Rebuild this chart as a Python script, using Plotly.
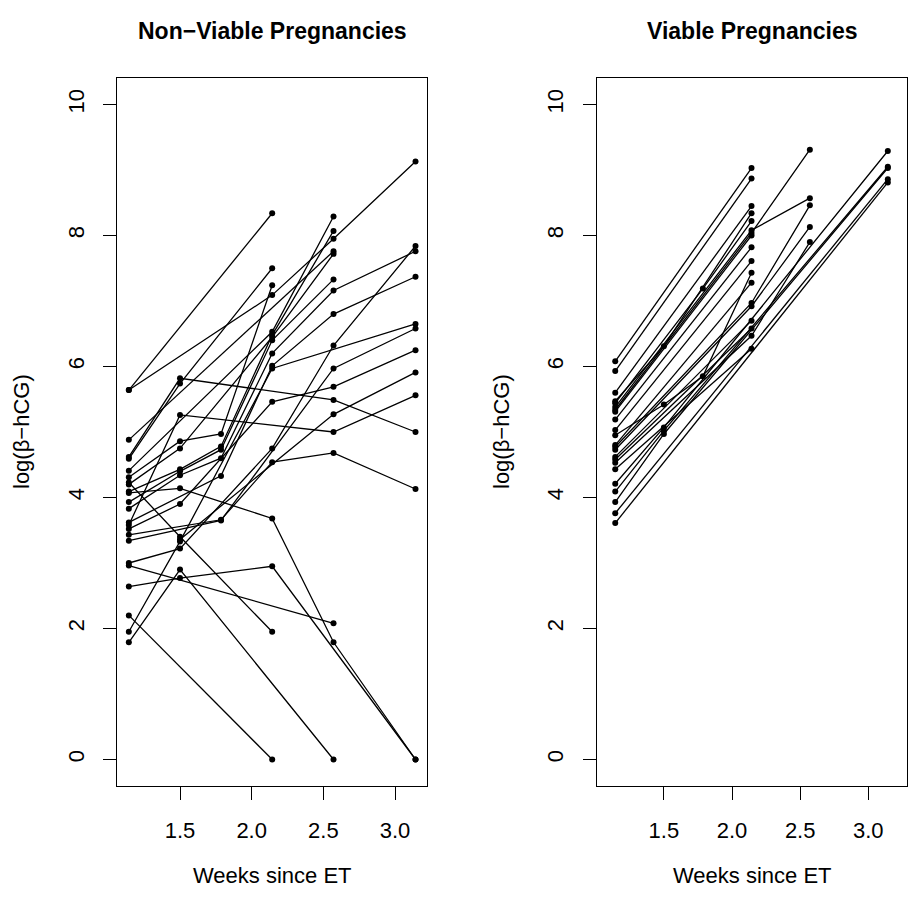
import plotly.graph_objects as go

# ---------------- data ----------------
WEEK_TICKS = [1.5, 2.0, 2.5, 3.0]
WEEK_TICK_TEXT = ["1.5", "2.0", "2.5", "3.0"]
LOG_TICKS = [0, 2, 4, 6, 8, 10]
LOG_TICK_TEXT = ["0", "2", "4", "6", "8", "10"]

PANEL_TITLES = ["Non\u2212Viable Pregnancies", "Viable Pregnancies"]
X_TITLE = "Weeks since ET"
Y_TITLE = "log(\u03b2\u2212hCG)"

# Non-viable pregnancies: one list per subject
nv_weeks = [
    [1.143, 2.143],
    [1.143, 2.143, 2.571, 3.143],
    [1.143, 2.571],
    [1.143, 1.5, 2.571, 3.143],
    [1.143, 1.5, 2.143],
    [1.143, 2.143, 2.571],
    [1.143, 1.5, 1.786, 2.143],
    [1.143, 1.5, 2.143],
    [1.143, 1.5, 2.143, 2.571],
    [1.143, 1.5, 1.786, 2.143, 2.571],
    [1.143, 1.5, 2.143, 2.571, 3.143],
    [1.143, 1.5, 1.786, 2.143, 2.571],
    [1.143, 1.5, 1.786, 2.143, 2.571, 3.143],
    [1.143, 1.786, 2.143, 2.571, 3.143],
    [1.143, 1.5, 2.571, 3.143],
    [1.143, 1.5, 2.143, 2.571, 3.143],
    [1.5, 2.571, 3.143],
    [1.143, 1.786, 2.571, 3.143],
    [1.143, 1.5, 2.143, 2.571, 3.143],
    [1.143, 2.571],
    [1.143, 1.5, 2.143, 3.143],
    [1.143, 2.143],
    [1.143, 1.5, 2.143, 3.143],
    [1.143, 1.5, 2.571],
    [1.143, 1.786, 2.143, 2.571, 3.143],
]
nv_loghcg = [
    [5.64, 8.34],
    [5.64, 7.09, 7.95, 9.13],
    [4.88, 7.76],
    [4.62, 5.82, 5.49, 5.00],
    [4.59, 5.74, 7.50],
    [4.41, 6.53, 8.29],
    [4.31, 4.86, 4.97, 7.24],
    [4.23, 3.40, 1.95],
    [4.20, 4.75, 6.45, 7.72],
    [4.09, 4.43, 4.78, 6.48, 8.07],
    [4.07, 4.14, 3.68, 1.79, 0.00],
    [3.93, 4.40, 4.73, 6.40, 7.33],
    [3.83, 4.34, 4.60, 6.20, 7.16, 7.76],
    [3.62, 4.33, 6.01, 6.80, 7.37],
    [3.58, 5.26, 5.00, 5.56],
    [3.52, 3.90, 5.46, 5.69, 6.25],
    [3.36, 5.27, 5.91],
    [3.34, 3.65, 5.97, 6.58],
    [3.00, 3.22, 4.75, 6.32, 7.84],
    [2.96, 2.08],
    [2.64, 2.77, 2.95, 0.00],
    [2.20, 0.00],
    [1.95, 3.33, 5.97, 6.65],
    [1.79, 2.90, 0.00],
    [3.43, 3.66, 4.54, 4.68, 4.13],
]

# Viable pregnancies: one list per subject
v_weeks = [
    [1.143, 2.143],
    [1.143, 2.143],
    [1.143, 2.143],
    [1.143, 1.5, 2.143],
    [1.143, 1.786, 2.143],
    [1.143, 2.143, 2.571],
    [1.143, 2.143, 2.571],
    [1.143, 2.143],
    [1.143, 2.143],
    [1.143, 2.143],
    [1.143, 1.5, 1.786, 2.143],
    [1.143, 2.143],
    [1.143, 2.143, 2.571],
    [1.143, 2.143, 2.571],
    [1.143, 2.143],
    [1.143, 2.143],
    [1.143, 2.143, 2.571],
    [1.143, 2.143],
    [1.143, 1.5, 3.143],
    [1.143, 1.5, 3.143],
    [1.143, 1.5, 3.143],
    [1.143, 3.143],
    [1.143, 3.143],
]
v_loghcg = [
    [6.08, 9.03],
    [5.93, 8.87],
    [5.60, 8.45],
    [5.47, 6.31, 8.34],
    [5.44, 7.19, 8.22],
    [5.38, 8.08, 8.57],
    [5.34, 8.04, 9.31],
    [5.31, 8.00],
    [5.19, 7.82],
    [5.03, 7.61],
    [4.95, 5.42, 5.85, 7.43],
    [4.80, 7.28],
    [4.77, 6.97, 8.46],
    [4.73, 6.92, 8.13],
    [4.62, 6.70],
    [4.58, 6.58],
    [4.53, 6.47, 7.90],
    [4.43, 6.27],
    [4.21, 5.07, 9.29],
    [4.09, 5.02, 9.05],
    [3.93, 4.97, 9.03],
    [3.76, 8.86],
    [3.61, 8.81],
]

# ---------------- figure ----------------
W, H = 910, 903
FONT = "Liberation Sans, Arial, Helvetica, sans-serif"
AX_FS = 22
TITLE_FS = 23

fig = go.Figure()


def add_panel(weeks, vals, xa, ya):
    for wk, lv in zip(weeks, vals):
        fig.add_trace(go.Scatter(
            x=wk, y=lv, mode="lines+markers",
            line=dict(color="black", width=1.3),
            marker=dict(color="black", size=6),
            xaxis=xa, yaxis=ya, hoverinfo="skip", showlegend=False,
        ))


add_panel(nv_weeks, nv_loghcg, "x", "y")
add_panel(v_weeks, v_loghcg, "x2", "y2")

# plot boxes in pixels
L_BOX = (117.3, 426.7)
R_BOX = (596.7, 907.3)
TOP, BOT = 78.3, 785.7


def px_x(p):
    return p / W


def px_y(p):
    return 1 - p / H


ydom = [px_y(BOT), px_y(TOP)]

axis_common = dict(
    showline=True, mirror=True, linecolor="black", linewidth=1,
    ticks="outside", ticklen=13, tickwidth=1, tickcolor="black",
    showgrid=False, zeroline=False,
    tickfont=dict(family=FONT, size=AX_FS, color="black"),
)

fig.update_layout(
    width=W, height=H,
    margin=dict(l=0, r=0, t=0, b=0),
    plot_bgcolor="white", paper_bgcolor="white",
    showlegend=False,
    font=dict(family=FONT, size=AX_FS, color="black"),
    xaxis=dict(domain=[px_x(L_BOX[0]), px_x(L_BOX[1])], range=[1.0625, 3.221],
               tickvals=WEEK_TICKS, ticktext=WEEK_TICK_TEXT, anchor="y",
               ticklabelstandoff=12, **axis_common),
    yaxis=dict(domain=ydom, range=[-0.4, 10.4], tickvals=LOG_TICKS,
               ticktext=LOG_TICK_TEXT, tickangle=-90, anchor="x",
               ticklabelstandoff=11, **axis_common),
    xaxis2=dict(domain=[px_x(R_BOX[0]), px_x(R_BOX[1])], range=[1.007, 3.286],
                tickvals=WEEK_TICKS, ticktext=WEEK_TICK_TEXT, anchor="y2",
                ticklabelstandoff=12, **axis_common),
    yaxis2=dict(domain=ydom, range=[-0.4, 10.4], tickvals=LOG_TICKS,
                ticktext=LOG_TICK_TEXT, tickangle=-90, anchor="x2",
                ticklabelstandoff=11, **axis_common),
)

annotations = []
for (bx0, bx1), title, ylab_x in [(L_BOX, PANEL_TITLES[0], 21), (R_BOX, PANEL_TITLES[1], 501)]:
    cx = (bx0 + bx1) / 2
    annotations.append(dict(
        text="<b>%s</b>" % title, x=px_x(cx), y=px_y(31), xref="paper", yref="paper",
        xanchor="center", yanchor="middle", showarrow=False,
        font=dict(family=FONT, size=TITLE_FS, color="black")))
    annotations.append(dict(
        text=X_TITLE, x=px_x(cx), y=px_y(875), xref="paper", yref="paper",
        xanchor="center", yanchor="middle", showarrow=False,
        font=dict(family=FONT, size=AX_FS, color="black")))
    annotations.append(dict(
        text=Y_TITLE, x=px_x(ylab_x), y=px_y((TOP + BOT) / 2), xref="paper", yref="paper",
        xanchor="center", yanchor="middle", showarrow=False, textangle=-90,
        font=dict(family=FONT, size=AX_FS, color="black")))
fig.update_layout(annotations=annotations)

fig.write_html("out.html")
